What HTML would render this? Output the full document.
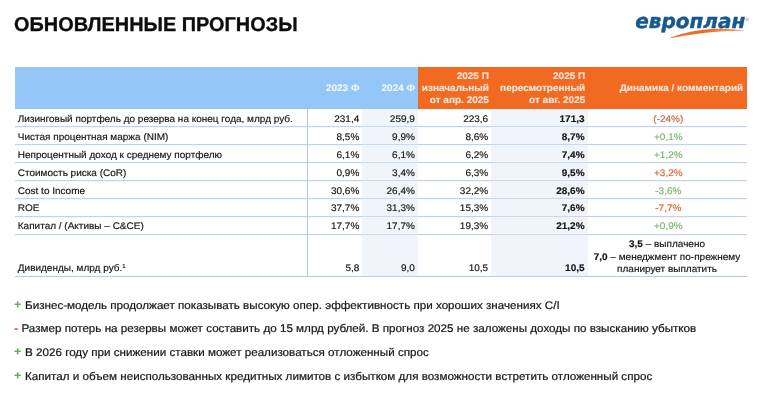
<!DOCTYPE html>
<html lang="ru">
<head>
<meta charset="utf-8">
<title>Обновленные прогнозы</title>
<style>
html,body{margin:0;padding:0;background:#fff;}
body{will-change:transform;text-rendering:geometricPrecision;width:758px;height:406px;position:relative;overflow:hidden;font-family:"Liberation Sans",Arial,sans-serif;color:#161616;}
.title{position:absolute;left:14.1px;top:14px;font-size:19.9px;font-weight:bold;line-height:23px;white-space:nowrap;color:#0d0d0d;-webkit-text-stroke:0.3px #0d0d0d;}
.tbl{position:absolute;left:14.6px;top:67px;width:732.8px;}
.row{position:absolute;left:0;width:732.8px;border-bottom:1px solid #b0cae6;box-sizing:border-box;font-size:10px;transform:scaleY(0.955);transform-origin:0 0;-webkit-text-stroke:0.18px currentColor;}
.c{position:absolute;top:0;bottom:0;box-sizing:border-box;white-space:nowrap;}
.c0{left:0;width:293.4px;padding-left:3.2px;}
.vl{position:absolute;left:292.4px;top:41.6px;width:1px;height:168.4px;background:#b0cae6;}
.c1{left:293.4px;width:54.4px;text-align:right;padding-right:3.1px;}
.c2{left:347.8px;width:55.6px;text-align:right;padding-right:3.1px;background:#f1f5fb;}
.c3{left:403.4px;width:73.3px;text-align:right;padding-right:3.1px;}
.c4{left:476.7px;width:96.4px;text-align:right;padding-right:3.1px;background:#f1f5fb;font-weight:bold;}
.c5{left:573.1px;width:159.7px;text-align:center;padding-left:1.6px;}
.hd{position:absolute;left:0;top:0;width:732.8px;height:43.56px;background:#94c7f8;font-size:10px;font-weight:bold;color:rgba(255,255,255,.82);-webkit-text-stroke:0.2px rgba(255,255,255,.6);line-height:12.55px;transform:scaleY(0.955);transform-origin:0 0;}
.hd .c{background:none;border:0;display:flex;flex-direction:column;justify-content:center;padding-top:3.3px;padding-right:2.4px;}
.hd .c1,.hd .c2{padding-right:2.9px;}
.hd .or{background:#f26a21;}
.g{color:#7db56c;}
.o{color:#e2622b;}
.br{color:#c8674a;}
.bul{position:absolute;left:14.3px;font-size:11.65px;line-height:14px;white-space:nowrap;color:#161616;transform:scaleY(0.955);transform-origin:0 50%;-webkit-text-stroke:0.22px currentColor;}
.bul b{position:relative;top:-0.9px;margin-right:0.7px;font-weight:bold;-webkit-text-stroke:0.25px currentColor;}
.bul b.o{top:0.1px;margin-right:0;color:#c9603c;}
.bul b.g{color:#6fa766;}
</style>
</head>
<body>
<div class="title">ОБНОВЛЕННЫЕ ПРОГНОЗЫ</div>

<svg class="logo" style="position:absolute;left:630px;top:8px" width="126" height="36" viewBox="630 8 126 36">
  <defs><linearGradient id="sw" x1="0" y1="0" x2="1" y2="0"><stop offset="0" stop-color="#e9783a"/><stop offset=".45" stop-color="#ec6a1e"/><stop offset="1" stop-color="#f4a46a"/></linearGradient></defs>
  <text x="635.2" y="28" font-family="DejaVu Sans, Liberation Sans, sans-serif" font-weight="bold" font-style="italic" font-size="20" fill="#17588f" stroke="#17588f" stroke-width="0.45">европлан</text>
  <path d="M668.5 38.5 C677 34.6 692 30.6 708 29.2 C720 28.3 734 29.1 745.2 31 C735 30.7 722 31.1 708.5 32.4 C695 33.6 680 36.3 668.5 38.5 Z" fill="url(#sw)"/>
  <text x="745" y="20.6" font-family="Liberation Sans, sans-serif" font-size="5.2" fill="#7d8a9a">®</text>
</svg>

<div class="tbl">
  <div class="hd">
    <div class="c c1"><span>2023 Ф</span></div>
    <div class="c c2"><span>2024 Ф</span></div>
    <div class="c c3 or"><span>2025 П</span><span>изначальный</span><span>от апр. 2025</span></div>
    <div class="c c4 or"><span>2025 П</span><span>пересмотренный</span><span>от авг. 2025</span></div>
    <div class="c c5 or" style="text-align:right;padding-right:4.2px"><span>Динамика / комментарий</span></div>
  </div>
  <div class="row" style="top:41.6px;height:19.16px;line-height:24.16px"><div class="c c0">Лизинговый портфель до резерва на конец года, млрд руб.</div><div class="c c1">231,4</div><div class="c c2">259,9</div><div class="c c3">223,6</div><div class="c c4">171,3</div><div class="c c5 br">(-24%)</div></div>
  <div class="row" style="top:59.9px;height:18.9px;line-height:23.9px"><div class="c c0">Чистая процентная маржа (NIM)</div><div class="c c1">8,5%</div><div class="c c2">9,9%</div><div class="c c3">8,6%</div><div class="c c4">8,7%</div><div class="c c5 g">+0,1%</div></div>
  <div class="row" style="top:77.95px;height:18.95px;line-height:23.95px"><div class="c c0">Непроцентный доход к среднему портфелю</div><div class="c c1">6,1%</div><div class="c c2">6,1%</div><div class="c c3">6,2%</div><div class="c c4">7,4%</div><div class="c c5 g">+1,2%</div></div>
  <div class="row" style="top:96.05px;height:18.9px;line-height:23.9px"><div class="c c0">Стоимость риска (CoR)</div><div class="c c1">0,9%</div><div class="c c2">3,4%</div><div class="c c3">6,3%</div><div class="c c4">9,5%</div><div class="c c5 o">+3,2%</div></div>
  <div class="row" style="top:114.1px;height:18.9px;line-height:23.9px"><div class="c c0">Cost to Income</div><div class="c c1">30,6%</div><div class="c c2">26,4%</div><div class="c c3">32,2%</div><div class="c c4">28,6%</div><div class="c c5 g">-3,6%</div></div>
  <div class="row" style="top:132.15px;height:18.9px;line-height:22.5px"><div class="c c0">ROE</div><div class="c c1">37,7%</div><div class="c c2">31,3%</div><div class="c c3">15,3%</div><div class="c c4">7,6%</div><div class="c c5 o">-7,7%</div></div>
  <div class="row" style="top:150.2px;height:18.95px;line-height:22.55px"><div class="c c0">Капитал / (Активы – C&amp;CE)</div><div class="c c1">17,7%</div><div class="c c2">17,7%</div><div class="c c3">19,3%</div><div class="c c4">21,2%</div><div class="c c5 g">+0,9%</div></div>
  <div class="row" style="top:168.3px;height:43.66px;line-height:12.9px">
    <div class="c c0" style="padding-top:30.0px">Дивиденды, млрд руб.<sup style="font-size:6px;line-height:0;vertical-align:3.4px">1</sup></div>
    <div class="c c1" style="padding-top:30.0px">5,8</div><div class="c c2" style="padding-top:30.0px">9,0</div><div class="c c3" style="padding-top:30.0px">10,5</div><div class="c c4" style="padding-top:30.0px">10,5</div>
    <div class="c c5" style="padding-top:4.1px;line-height:13.1px;padding-left:0;padding-right:1px"><b>3,5</b> – выплачено<br><b>7,0</b> – менеджмент по-прежнему<br>планирует выплатить</div>
  </div>
  <div class="vl"></div>
</div>

<div class="bul" style="top:298.7px"><b class="g">+</b> Бизнес-модель продолжает показывать высокую опер. эффективность при хороших значениях C/I</div>
<div class="bul" style="top:321.9px"><b class="o">-</b> Размер потерь на резервы может составить до 15 млрд рублей. В прогноз 2025 не заложены доходы по взысканию убытков</div>
<div class="bul" style="top:346px"><b class="g">+</b> В 2026 году при снижении ставки может реализоваться отложенный спрос</div>
<div class="bul" style="top:370px"><b class="g">+</b> Капитал и объем неиспользованных кредитных лимитов с избытком для возможности встретить отложенный спрос</div>
</body>
</html>
